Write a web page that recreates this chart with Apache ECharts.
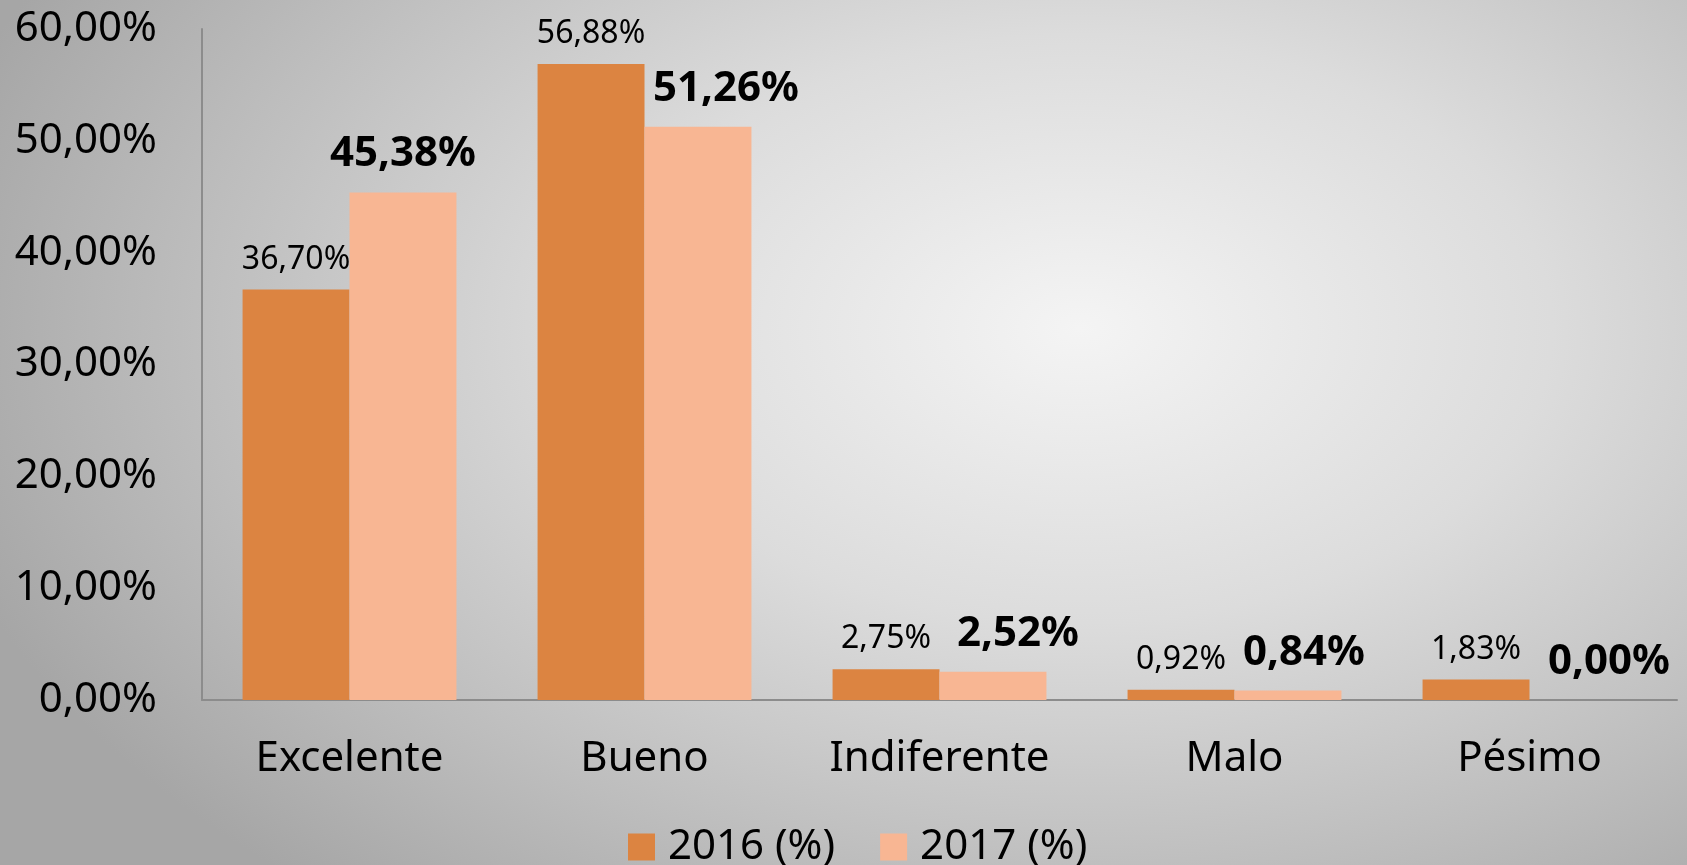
<!DOCTYPE html>
<html style="height: 100%">
<head>
<meta charset="utf-8">
</head>
<body style="height: 100%; margin: 0">
<div id="container" style="height: 100%; background: radial-gradient(ellipse 70% 85% at 64% 38%, #f4f4f4 0%, #dcdcdc 40%, #bdbdbd 75%, #a6a6a6 100%);"></div>
<script type="text/javascript" src="https://cdn.jsdelivr.net/npm/echarts@6/dist/echarts.min.js"></script>
<script type="text/javascript">

var categories = ['Excelente', 'Bueno', 'Indiferente', 'Malo', 'Pésimo'];
var values2016 = [36.70, 56.88, 2.75, 0.92, 1.83];
var values2017 = [45.38, 51.26, 2.52, 0.84, 0.00];
var seriesNames = ['2016 (%)', '2017 (%)'];

function pct(v) {
    return Number(v).toFixed(2).replace('.', ',') + '%';
}

// labels of 2017 were nudged to the right in the original sheet
var nudge2017 = [0, 28, 25, 16, 26];

var myChart = echarts.init(document.getElementById('container'));

var option = {
    backgroundColor: 'transparent',
    textStyle: { fontFamily: 'Noto Sans' },
    grid: { left: 202, right: 10, top: 29, bottom: 165 },
    legend: {
        data: seriesNames,
        left: 623,
        top: 821,
        itemWidth: 27,
        itemHeight: 27,
        itemGap: 45,
        icon: 'rect',
        textStyle: { fontSize: 42, color: '#000', padding: [0, 0, 0, 8] }
    },
    xAxis: {
        type: 'category',
        data: categories,
        axisLine: { lineStyle: { color: '#8c8c8c', width: 2 } },
        axisTick: { show: false },
        axisLabel: { fontSize: 42, color: '#000', margin: 38 }
    },
    yAxis: {
        type: 'value',
        min: 0,
        max: 60,
        interval: 10,
        axisLine: { show: true, lineStyle: { color: '#8c8c8c', width: 2 } },
        axisTick: { show: false },
        splitLine: { show: false },
        axisLabel: { fontSize: 42, color: '#000', margin: 45, formatter: pct }
    },
    series: [
        {
            name: seriesNames[0],
            type: 'bar',
            data: values2016,
            barGap: '0%',
            barCategoryGap: '27.5%',
            itemStyle: { color: '#dc8441' },
            label: {
                show: true,
                position: 'top',
                distance: 14,
                fontSize: 32,
                color: '#000',
                formatter: function (p) { return pct(p.value); }
            }
        },
        {
            name: seriesNames[1],
            type: 'bar',
            data: values2017.map(function (v, i) {
                return { value: v, label: { offset: [nudge2017[i], 0] } };
            }),
            itemStyle: { color: '#f8b693' },
            label: {
                show: true,
                position: 'top',
                distance: 17,
                fontSize: 42,
                fontWeight: 'bold',
                color: '#000',
                formatter: function (p) { return pct(p.value); }
            }
        }
    ]
};

myChart.setOption(option, true);
</script>
</body>
</html>
